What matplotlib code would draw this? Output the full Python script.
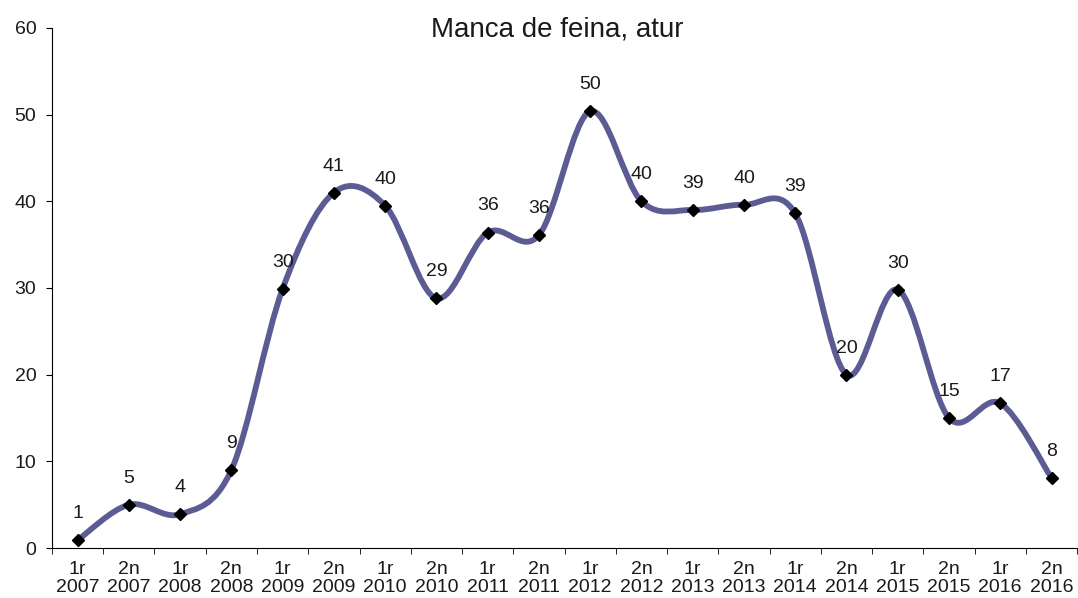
import numpy as np
import matplotlib.pyplot as plt
from matplotlib.path import Path
from matplotlib.patches import PathPatch

plt.rcParams['font.family'] = ['Liberation Sans', 'DejaVu Sans']

periods = ["1r", "2n"] * 10
years = [str(y) for y in range(2007, 2017) for _ in range(2)]
values = [0.9, 5.0, 3.9, 9.0, 29.9, 41.0, 39.5, 28.8, 36.4, 36.1,
          50.4, 40.0, 39.0, 39.6, 38.6, 20.0, 29.8, 15.0, 16.7, 8.1]
labels = ["1", "5", "4", "9", "30", "41", "40", "29", "36", "36",
          "50", "40", "39", "40", "39", "20", "30", "15", "17", "8"]

x = np.arange(len(values))
y = np.array(values)

fig = plt.figure(figsize=(10.78, 5.98), dpi=100)
ax = fig.add_axes([0.0482, 0.0836, 0.951, 0.8696])

# smoothed line, Excel style (Catmull-Rom as cubic Bezier)
verts = [(x[0], y[0])]
codes = [Path.MOVETO]
n = len(x)
for i in range(n - 1):
    p0 = np.array([x[max(i - 1, 0)], y[max(i - 1, 0)]])
    p1 = np.array([x[i], y[i]])
    p2 = np.array([x[i + 1], y[i + 1]])
    p3 = np.array([x[min(i + 2, n - 1)], y[min(i + 2, n - 1)]])
    c1 = p1 + (p2 - p0) / 6
    c2 = p2 - (p3 - p1) / 6
    verts += [tuple(c1), tuple(c2), tuple(p2)]
    codes += [Path.CURVE4] * 3
ax.add_patch(PathPatch(Path(verts, codes), facecolor='none',
                       edgecolor='#5c5c94', lw=4.2, capstyle='round', zorder=2))

ax.plot(x, y, linestyle='none', marker='D', markersize=6.5, color='black', zorder=3)
for xi, yi, lab in zip(x, y, labels):
    ax.annotate(lab, (xi, yi), xytext=(0, 13), textcoords='offset points',
                ha='center', va='bottom', fontsize=14, color='#1a1a1a')

ax.set_xlim(-0.5, n - 0.5)
ax.set_ylim(0, 60)
ax.set_yticks(range(0, 61, 10))
ax.set_xticks(x)
ax.set_xticklabels([p + "\n" + yr for p, yr in zip(periods, years)], fontsize=14,
                   linespacing=1.1, color='#1a1a1a')
ax.set_xticks(np.arange(-0.5, n, 1), minor=True)
ax.tick_params(axis='x', which='major', length=0, pad=9)
ax.tick_params(axis='x', which='minor', length=4.3, direction='out')
ax.tick_params(axis='y', labelsize=14, length=4.3, pad=7, direction='out',
               labelcolor='#1a1a1a')
for s in ['top', 'right']:
    ax.spines[s].set_visible(False)
fig.text(0.5167, 1 - 30 / 598, "Manca de feina, atur", fontsize=20,
         ha='center', va='center', color='#1a1a1a')

fig.savefig("out.png", dpi=100)
